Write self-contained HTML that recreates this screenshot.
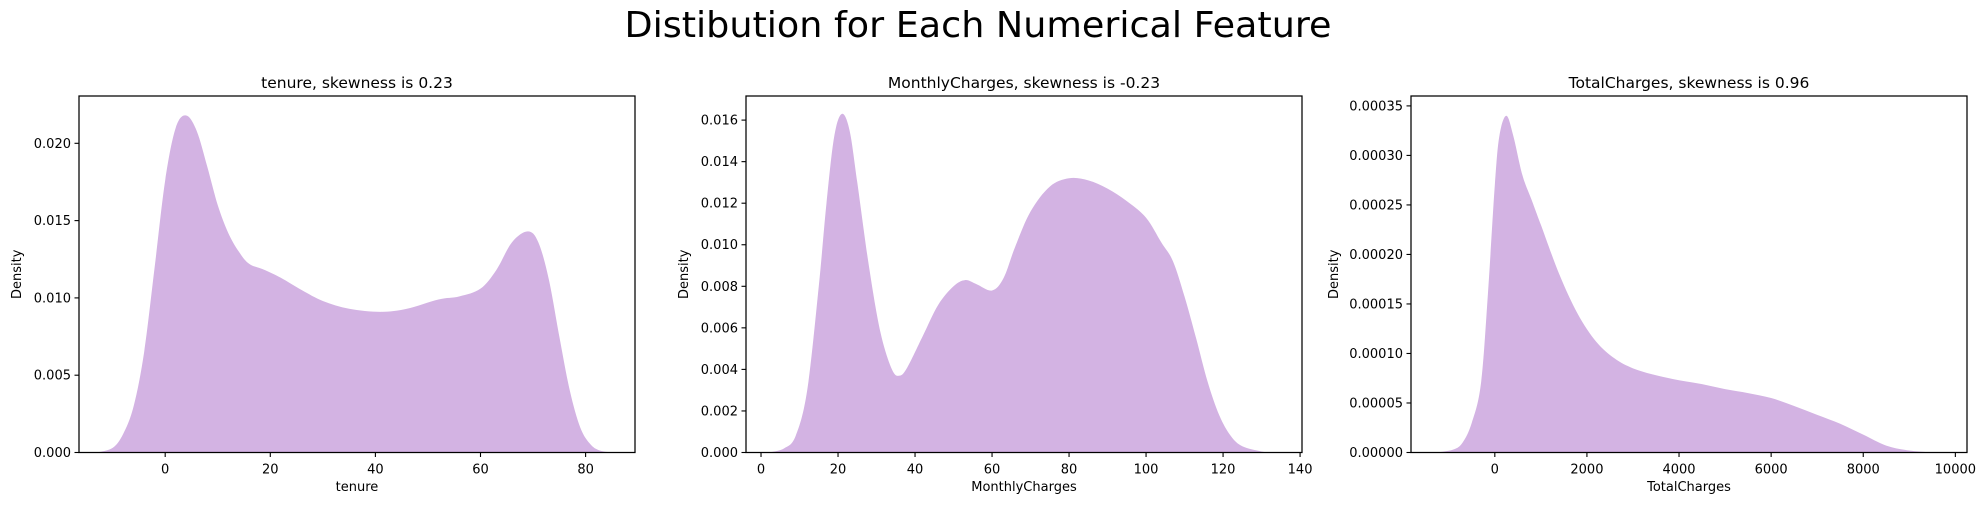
<!DOCTYPE html>
<html><head><meta charset="utf-8"><style>
body{margin:0;background:#fff;}
svg{display:block;font-family:"DejaVu Sans","Liberation Sans",sans-serif;}
</style></head><body>
<svg id="fig" width="1986" height="505" viewBox="0 0 1986 505" xmlns="http://www.w3.org/2000/svg">
<rect width="1986" height="505" fill="#fff"/>
<text x="978" y="37" font-size="36" text-anchor="middle" textLength="707" lengthAdjust="spacingAndGlyphs">Distibution for Each Numerical Feature</text>
</svg>
<script>
// tenure
const tenureX=[-13,-10,-8,-6,-4,-2,0,2,4,6,8,10,12,14,16,19,22,26,30,35,41,46,52,56,60,63,66,69,71,73,75,77,79,81,83,86];
const tenureY=[0,0.0003,0.0012,0.003,0.0065,0.012,0.0176,0.021,0.0218,0.0208,0.0185,0.016,0.0142,0.013,0.0122,0.0118,0.0113,0.0105,0.0098,0.0093,0.0091,0.0093,0.0099,0.0101,0.0106,0.0118,0.0136,0.0143,0.0136,0.0112,0.0075,0.004,0.0016,0.0005,0.0001,0];
const tenureXTicks=[0,20,40,60,80];
const tenureYTicks=[0,0.005,0.010,0.015,0.020];
const tenureYLabels=["0.000","0.005","0.010","0.015","0.020"];
// MonthlyCharges
const mcX=[2,6,9,12,15,17,19,21,23,25,28,31,34,36,38,42,46,50,53,56,60,63,66,70,75,80,85,90,95,100,104,107,110,113,116,119,122,125,130,133];
const mcY=[0,0.0002,0.0008,0.003,0.008,0.012,0.0152,0.0163,0.0155,0.013,0.009,0.0058,0.004,0.0037,0.0041,0.0056,0.0071,0.008,0.0083,0.0081,0.0078,0.0084,0.0099,0.0116,0.0128,0.0132,0.0131,0.0127,0.0121,0.0113,0.0101,0.0092,0.0075,0.0055,0.0034,0.0018,0.0008,0.0003,0.00005,0];
const mcXTicks=[0,20,40,60,80,100,120,140];
const mcYTicks=[0,0.002,0.004,0.006,0.008,0.010,0.012,0.014,0.016];
const mcYLabels=["0.000","0.002","0.004","0.006","0.008","0.010","0.012","0.014","0.016"];
// TotalCharges
const tcX=[-1250,-900,-700,-500,-300,-150,0,100,250,400,600,800,1000,1400,1800,2200,2600,3000,3500,4000,4500,5000,5500,6000,6500,7000,7500,8000,8500,9000,9500];
const tcY=[0,0.000003,0.00001,0.00003,0.00007,0.00016,0.00027,0.00032,0.00034,0.00032,0.00028,0.000255,0.00023,0.00018,0.00014,0.000112,0.000095,0.000085,0.000078,0.000073,0.000069,0.000064,0.00006,0.000055,0.000047,0.000038,0.000029,0.000018,0.000007,0.000002,0];
const tcXTicks=[0,2000,4000,6000,8000,10000];
const tcYTicks=[0,0.00005,0.0001,0.00015,0.0002,0.00025,0.0003,0.00035];
const tcYLabels=["0.00000","0.00005","0.00010","0.00015","0.00020","0.00025","0.00030","0.00035"];

const NS="http://www.w3.org/2000/svg";
const svg=document.getElementById('fig');
function mk(tag,attrs,parent){const e=document.createElementNS(NS,tag);for(const k in attrs)e.setAttribute(k,attrs[k]);(parent||svg).appendChild(e);return e;}

function panel(o){
  const g=mk('g',{});
  
  
  const L=o.left,R=o.left+556,T=96,B=452.5;
  const sx=v=>L+(v-o.xmin)/(o.xmax-o.xmin)*(R-L);
  const sy=v=>B-(v-0)/(o.ymax)*(B-T);
  // area
  const pts=o.xs.map((x,i)=>[sx(x),sy(o.ys[i])]);
  let d=`M${pts[0][0]},${B} L${pts[0][0]},${pts[0][1]}`;
  for(let i=0;i<pts.length-1;i++){
    const p0=pts[Math.max(i-1,0)],p1=pts[i],p2=pts[i+1],p3=pts[Math.min(i+2,pts.length-1)];
    const c1=[p1[0]+(p2[0]-p0[0])/6,p1[1]+(p2[1]-p0[1])/6];
    const c2=[p2[0]-(p3[0]-p1[0])/6,p2[1]-(p3[1]-p1[1])/6];
    d+=` C${c1[0]},${Math.min(c1[1],B)} ${c2[0]},${Math.min(c2[1],B)} ${p2[0]},${p2[1]}`;
  }
  d+=` L${pts[pts.length-1][0]},${B} Z`;
  const a=mk('path',{d:d,fill:'#d3b3e3',stroke:'none'},g);
  
  
  // spines
  const fr=mk('rect',{x:L,y:T,width:R-L,height:B-T,fill:'none',stroke:'#000','stroke-width':1.25},g);
  
  
  // x ticks
  o.xt.forEach(v=>{
    const x=sx(v);
    mk('line',{x1:x,x2:x,y1:B,y2:B+4.5,stroke:'#000','stroke-width':1.1},g);
    const t=mk('text',{x:x,y:B+21,'font-size':13,'text-anchor':'middle'},g);
    t.textContent=String(v);
    
    
  });
  o.yt.forEach((v,i)=>{
    const y=sy(v);
    mk('line',{x1:L-4.5,x2:L,y1:y,y2:y,stroke:'#000','stroke-width':1.1},g);
    const t=mk('text',{x:L-8,y:y+4.5,'font-size':13,'text-anchor':'end'},g);
    t.textContent=o.yl[i];
    
    
  });
  const tt=mk('text',{x:(L+R)/2,y:88,'font-size':15.5,'text-anchor':'middle'},g);
  tt.textContent=o.title;
  
  
  const xl=mk('text',{x:(L+R)/2,y:491,'font-size':13,'text-anchor':'middle'},g);
  xl.textContent=o.xlabel;
  
  
  const yl=mk('text',{x:o.ylx,y:(T+B)/2,'font-size':13,'text-anchor':'middle',transform:`rotate(-90 ${o.ylx} ${(T+B)/2})`},g);
  yl.textContent='Density';
  
  
}
panel({name:'tenure',left:79,xmin:-16.4,xmax:89.4,ymax:0.02306,xs:tenureX,ys:tenureY,xt:tenureXTicks,yt:tenureYTicks,yl:tenureYLabels,title:'tenure, skewness is 0.23',xlabel:'tenure',ylx:21});
panel({name:'monthly-charges',left:746,xmin:-3.9,xmax:140.5,ymax:0.01716,xs:mcX,ys:mcY,xt:mcXTicks,yt:mcYTicks,yl:mcYLabels,title:'MonthlyCharges, skewness is -0.23',xlabel:'MonthlyCharges',ylx:688});
panel({name:'total-charges',left:1411,xmin:-1820,xmax:10253,ymax:0.00036,xs:tcX,ys:tcY,xt:tcXTicks,yt:tcYTicks,yl:tcYLabels,title:'TotalCharges, skewness is 0.96',xlabel:'TotalCharges',ylx:1338});
</script>
</body></html>
